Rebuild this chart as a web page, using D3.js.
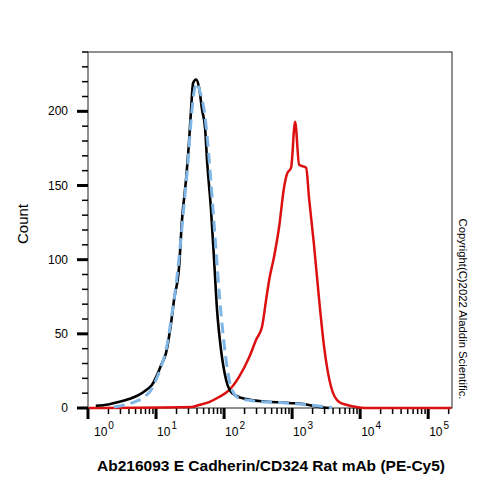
<!DOCTYPE html>
<html>
<head>
<meta charset="utf-8">
<script src="https://cdn.jsdelivr.net/npm/d3@7"></script>
<style>
  body { margin: 0; background: #fff; }
  svg { font-family: "Liberation Sans", Arial, sans-serif; }
</style>
</head>
<body>
<div id="container"></div>
<script>
/* DATA (fluorescence intensity, count) */
const isoIntensity = [1.3, 2.0, 2.9, 4.0, 5.6, 7.1, 8.7, 10.3, 11.9, 14.0, 16.6, 18.4, 21.8, 24.1, 27.6, 30.6, 32.7, 35.0, 38.7, 42.9, 47.5, 52.5, 56.2, 64.4, 71.3, 78.9, 90.3, 107, 131, 184, 327, 903, 1607, 2495, 3500];
const isoCount     = [1.5, 2.4, 4.2, 6, 8.8, 12, 15.5, 22, 29, 37, 57, 73, 95, 127, 154, 180, 201, 219, 221.5, 216, 201, 189, 167, 133, 100, 66, 39, 19, 10, 6.7, 4.7, 3.4, 2.4, 0.7, 0];

const ctrlIntensity = [2.4, 3.4, 4.75, 6.7, 8.4, 10, 11.9, 14.0, 15.5, 17.2, 19.7, 22.5, 25.8, 29.6, 32.7, 36.2, 40.1, 44.4, 50.8, 56.2, 62.2, 68.9, 76.3, 84.4, 96.6, 111, 131, 166, 276, 644, 1268, 2108, 3873];
const ctrlCount     = [0.7, 2, 4, 7.4, 12, 19, 28, 39, 50, 64, 83, 108, 137, 167, 194, 213, 219, 213, 201, 184, 160, 133, 106, 79, 50, 27, 12, 6.7, 4.7, 3.7, 2.7, 1.7, 0.3];

const abIntensity = [1.03, 33.8, 42.9, 60.2, 84.4, 118.5, 166, 233, 296, 362, 415, 459, 543, 644, 763, 844, 966, 1107, 1268, 1607, 1778, 2108, 2495, 2956, 3748, 4912, 6442, 8730, 11450, 217800];
const abCount     = [0, 0.7, 2, 4, 7.4, 12, 21, 34, 46, 55, 73, 86, 102, 122, 149, 158, 162, 193, 164, 162, 141, 109, 73, 41, 14, 4, 2, 0.7, 0, 0];

const xTickValues = [1, 10, 100, 1000, 10000, 100000];
const xTickExps = ["0", "1", "2", "3", "4", "5"];
const yTickValues = [0, 50, 100, 150, 200];

const xLabel = "Ab216093 E Cadherin/CD324 Rat mAb (PE-Cy5)";
const yLabel = "Count";
const copyright = "Copyright(C)2022 Aladdin Scientific.";

/* CONSTANTS */
const width = 500, height = 500;
const margin = {top: 52, right: 48, bottom: 92, left: 88};

const svg = d3.select("#container").append("svg")
  .attr("width", width)
  .attr("height", height);

// scales
const xScale = d3.scaleLog()
  .domain([1, Math.pow(10, 5.35)])
  .range([margin.left, width - margin.right]);

const yScale = d3.scaleLinear()
  .domain([0, 240])
  .range([height - margin.bottom, margin.top]);

const x0 = margin.left, x1 = width - margin.right;
const y0 = height - margin.bottom, y1 = margin.top;

// frame
svg.append("rect")
  .attr("x", x0).attr("y", y1)
  .attr("width", x1 - x0).attr("height", y0 - y1)
  .attr("fill", "none")
  .attr("stroke", "#222")
  .attr("stroke-width", 1);

// minor x ticks
const minorX = [];
for (let e = 0; e < 6; e++) {
  for (let m = 2; m <= 9; m++) {
    const v = m * Math.pow(10, e);
    if (xScale(v) <= x1) minorX.push(v);
  }
}
svg.append("g").selectAll("line")
  .data(minorX)
  .join("line")
  .attr("x1", d => xScale(d)).attr("x2", d => xScale(d))
  .attr("y1", y0).attr("y2", y0 + 6)
  .attr("stroke", "#000").attr("stroke-width", 1.5);

// major x ticks
svg.append("g").selectAll("line")
  .data(xTickValues)
  .join("line")
  .attr("x1", d => xScale(d)).attr("x2", d => xScale(d))
  .attr("y1", y0).attr("y2", y0 + 11)
  .attr("stroke", "#000").attr("stroke-width", 3);

// x tick labels (10 with superscript)
const xl = svg.append("g").selectAll("text")
  .data(xTickValues)
  .join("text")
  .attr("x", (d, i) => xScale(d) + (i === 0 ? 6 : 1))
  .attr("y", 436)
  .attr("font-size", 12)
  .attr("fill", "#000");
xl.append("tspan").text("10");
xl.append("tspan")
  .attr("dy", -7)
  .attr("dx", 1)
  .attr("font-size", 10)
  .text((d, i) => xTickExps[i]);

// minor y ticks
const minorY = d3.range(10, 241, 10).filter(d => d % 50 !== 0);
svg.append("g").selectAll("line")
  .data(minorY)
  .join("line")
  .attr("x1", x0 - 6).attr("x2", x0)
  .attr("y1", d => yScale(d)).attr("y2", d => yScale(d))
  .attr("stroke", "#000").attr("stroke-width", 1.5);

// major y ticks + labels
svg.append("g").selectAll("line")
  .data(yTickValues)
  .join("line")
  .attr("x1", x0 - 11).attr("x2", x0)
  .attr("y1", d => yScale(d)).attr("y2", d => yScale(d))
  .attr("stroke", "#000").attr("stroke-width", 3);

svg.append("g").selectAll("text")
  .data(yTickValues)
  .join("text")
  .attr("x", 68)
  .attr("y", d => yScale(d) + 4)
  .attr("text-anchor", "end")
  .attr("font-size", 12)
  .attr("fill", "#000")
  .text(d => d);

// line generator
const lineGen = d3.line()
  .x(d => xScale(d[0]))
  .y(d => yScale(d[1]))
  .curve(d3.curveMonotoneX);

const zip = (a, b) => a.map((v, i) => [v, b[i]]);

// antibody (red)
svg.append("path")
  .datum(zip(abIntensity, abCount))
  .attr("d", lineGen)
  .attr("fill", "none")
  .attr("stroke", "#dc1010")
  .attr("stroke-width", 2.5);

// isotype (black)
svg.append("path")
  .datum(zip(isoIntensity, isoCount))
  .attr("d", lineGen)
  .attr("fill", "none")
  .attr("stroke", "#000")
  .attr("stroke-width", 2.6);

// control (blue dashed)
svg.append("path")
  .datum(zip(ctrlIntensity, ctrlCount))
  .attr("d", lineGen)
  .attr("fill", "none")
  .attr("stroke", "#7fb6e6")
  .attr("stroke-width", 3)
  .attr("stroke-dasharray", "11,6");

// axis titles
svg.append("text")
  .attr("transform", `translate(28,224) rotate(-90)`)
  .attr("text-anchor", "middle")
  .attr("font-size", 15)
  .attr("fill", "#000")
  .text(yLabel);

svg.append("text")
  .attr("x", 271)
  .attr("y", 471)
  .attr("text-anchor", "middle")
  .attr("font-size", 15.5)
  .attr("font-weight", "bold")
  .attr("fill", "#000")
  .text(xLabel);

svg.append("text")
  .attr("transform", `translate(459,309) rotate(90)`)
  .attr("text-anchor", "middle")
  .attr("font-size", 11.3)
  .attr("fill", "#000")
  .text(copyright);
</script>
</body>
</html>
